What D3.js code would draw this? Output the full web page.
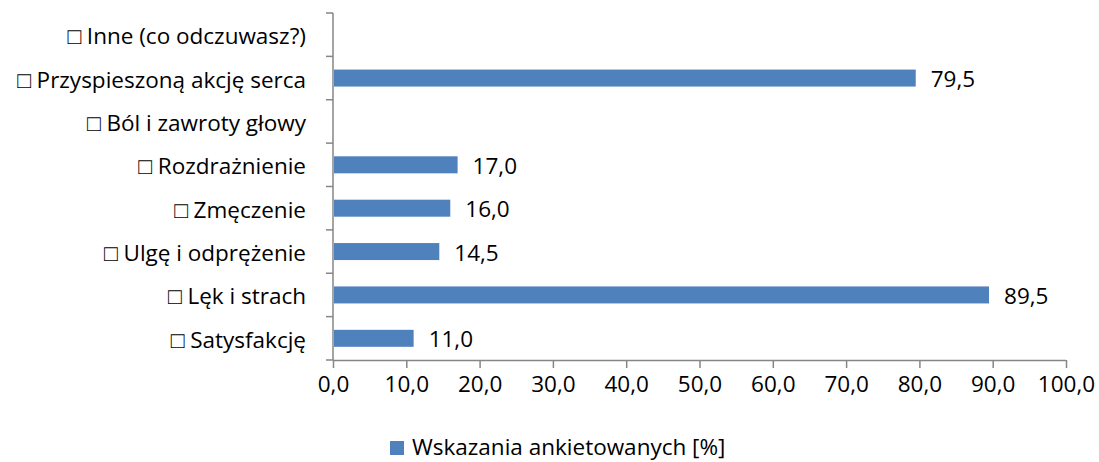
<!DOCTYPE html>
<head>
  <meta charset="utf-8">
  <script src="https://d3js.org/d3.v7.min.js"></script>
  <style>
body { margin: 0; background: #fff; }
text { font-family: "Open Sans", "Noto Sans", sans-serif; fill: #000; }
.axis path, .axis line { stroke: #868686; stroke-width: 1.5px; }
  </style>
</head>
<body>
  <script>
    // categories top to bottom, values in %
    var categories = ["□ Inne (co odczuwasz?)", "□ Przyspieszoną akcję serca", "□ Ból i zawroty głowy",
      "□ Rozdrażnienie", "□ Zmęczenie", "□ Ulgę i odprężenie", "□ Lęk i strach", "□ Satysfakcję"];
    var values = [null, 79.5, null, 17.0, 16.0, 14.5, 89.5, 11.0];
    var xTicks = [0, 10, 20, 30, 40, 50, 60, 70, 80, 90, 100];
    var seriesName = "Wskazania ankietowanych [%]";

    var W = 1099, H = 462;
    var mLeft = 333, mRight = 1066, mTop = 13, mBottom = 360;
    var fs = "22.5px";
    var fmt = function(v) { return d3.format(".1f")(v).replace(".", ","); };

    var svg = d3.select("body").append("svg")
      .attr("width", W).attr("height", H);

    var x = d3.scaleLinear().domain([0, 100]).range([mLeft, mRight]);
    var y = d3.scaleBand().domain(categories).range([mTop, mBottom]).paddingInner(0).paddingOuter(0);

    // x axis
    var xAxis = svg.append("g").attr("class", "axis")
      .attr("transform", "translate(0," + mBottom + ")")
      .call(d3.axisBottom(x).tickValues(xTicks).tickSize(8).tickSizeOuter(0).tickFormat(fmt));
    xAxis.select(".domain").attr("d", "M" + mLeft + ",0.5H" + mRight);
    xAxis.selectAll("text").attr("y", 0).attr("dy", 0)
      .attr("transform", "translate(0,32)").style("font-size", fs);

    // y axis with band boundary ticks
    var yg = svg.append("g").attr("class", "axis");
    yg.append("line").attr("x1", mLeft).attr("x2", mLeft).attr("y1", mTop).attr("y2", mBottom);
    yg.selectAll(".bt").data(d3.range(categories.length + 1)).enter().append("line")
      .attr("x1", mLeft - 7).attr("x2", mLeft)
      .attr("y1", function(i) { return mTop + i * y.step(); })
      .attr("y2", function(i) { return mTop + i * y.step(); });
    yg.selectAll(".cl").data(categories).enter().append("text")
      .attr("x", 306)
      .attr("y", function(d) { return y(d) + y.bandwidth() / 2 + 9.5; })
      .attr("text-anchor", "end")
      .style("font-size", fs)
      .text(function(d) { return d; });

    var rows = categories.map(function(c, i) { return { c: c, v: values[i] }; })
      .filter(function(d) { return d.v != null; });
    var barH = 17;

    svg.selectAll(".bar").data(rows).enter().append("rect")
      .attr("x", x(0) + 1)
      .attr("y", function(d) { return y(d.c) + y.bandwidth() / 2 - barH / 2; })
      .attr("width", function(d) { return x(d.v) - x(0) - 1; })
      .attr("height", barH)
      .attr("fill", "#4F81BD");

    svg.selectAll(".val").data(rows).enter().append("text")
      .attr("x", function(d) { return x(d.v) + 15; })
      .attr("y", function(d) { return y(d.c) + y.bandwidth() / 2 + 9; })
      .style("font-size", fs)
      .text(function(d) { return fmt(d.v); });

    // legend
    var lg = svg.append("g").attr("transform", "translate(390,441)");
    lg.append("rect").attr("width", 14).attr("height", 14).attr("fill", "#4F81BD");
    lg.append("text").attr("x", 22).attr("y", 14).style("font-size", fs).text(seriesName);
  </script>
</body>
